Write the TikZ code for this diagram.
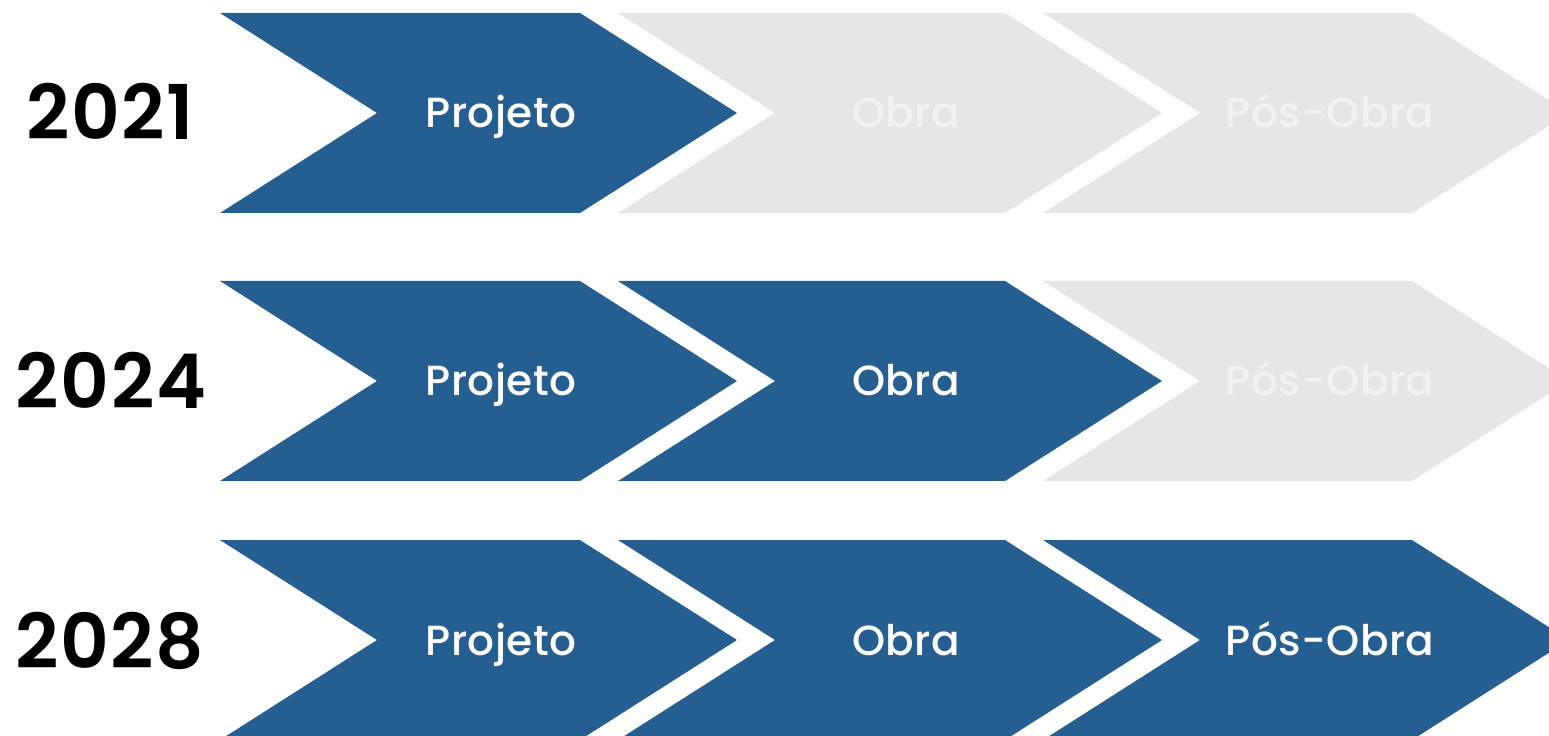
\documentclass[tikz,border=0pt]{standalone}
\usepackage{fontspec}
\setmainfont{Poppins}
\newfontfamily\labelfont{Poppins Medium}[LetterSpace=1]
\newfontfamily\yearfont{Poppins SemiBold}[LetterSpace=2]
\usetikzlibrary{positioning}
\definecolor{phaseblue}{RGB}{37,94,145}
\definecolor{phasegray}{RGB}{230,230,230}
\definecolor{grayfont}{RGB}{243,243,243}

% one chevron: left x, right x, top y, colour
\newcommand{\chevron}[4]{%
  \fill[#4] (#1,#3) -- (#2,#3) -- ({#2+157},{#3+100}) -- (#2,{#3+200})
    -- (#1,{#3+200}) -- ({#1+157},{#3+100}) -- cycle;}

\begin{document}
\begin{tikzpicture}[x=0.02cm, y=-0.02cm,
    year/.style={font=\yearfont\fontsize{43}{47}\selectfont, text=black, anchor=base},
    phase/.style={font=\labelfont\fontsize{24}{28}\selectfont, text=white, anchor=base},
    faded/.style={phase, text=grayfont}]
    \useasboundingbox (0,0) rectangle (1549,736);
    \clip (0,0) rectangle (1549,736);

    % 2021
    \chevron{220}{580}{13}{phaseblue}
    \chevron{618}{1005}{13}{phasegray}
    \chevron{1043}{1412}{13}{phasegray}
    \node[year] (y1) at (110,140) {2021};
    \node[phase] (p1) at (501,128) {Projeto};
    \node[faded] (o1) at (906,128) {Obra};
    \node[faded] (q1) at (1330,128) {Pós-Obra};

    % 2024
    \chevron{220}{580}{281}{phaseblue}
    \chevron{618}{1005}{281}{phaseblue}
    \chevron{1043}{1412}{281}{phasegray}
    \node[year] (y2) at (111,409) {2024};
    \node[phase] (p2) at (501,396) {Projeto};
    \node[phase] (o2) at (906,396) {Obra};
    \node[faded] (q2) at (1330,396) {Pós-Obra};

    % 2028
    \chevron{220}{580}{540}{phaseblue}
    \chevron{618}{1005}{540}{phaseblue}
    \chevron{1043}{1412}{540}{phaseblue}
    \node[year] (y3) at (110,668) {2028};
    \node[phase] (p3) at (501,655) {Projeto};
    \node[phase] (o3) at (906,655) {Obra};
    \node[phase] (q3) at (1330,655) {Pós-Obra};
\end{tikzpicture}
\end{document}
